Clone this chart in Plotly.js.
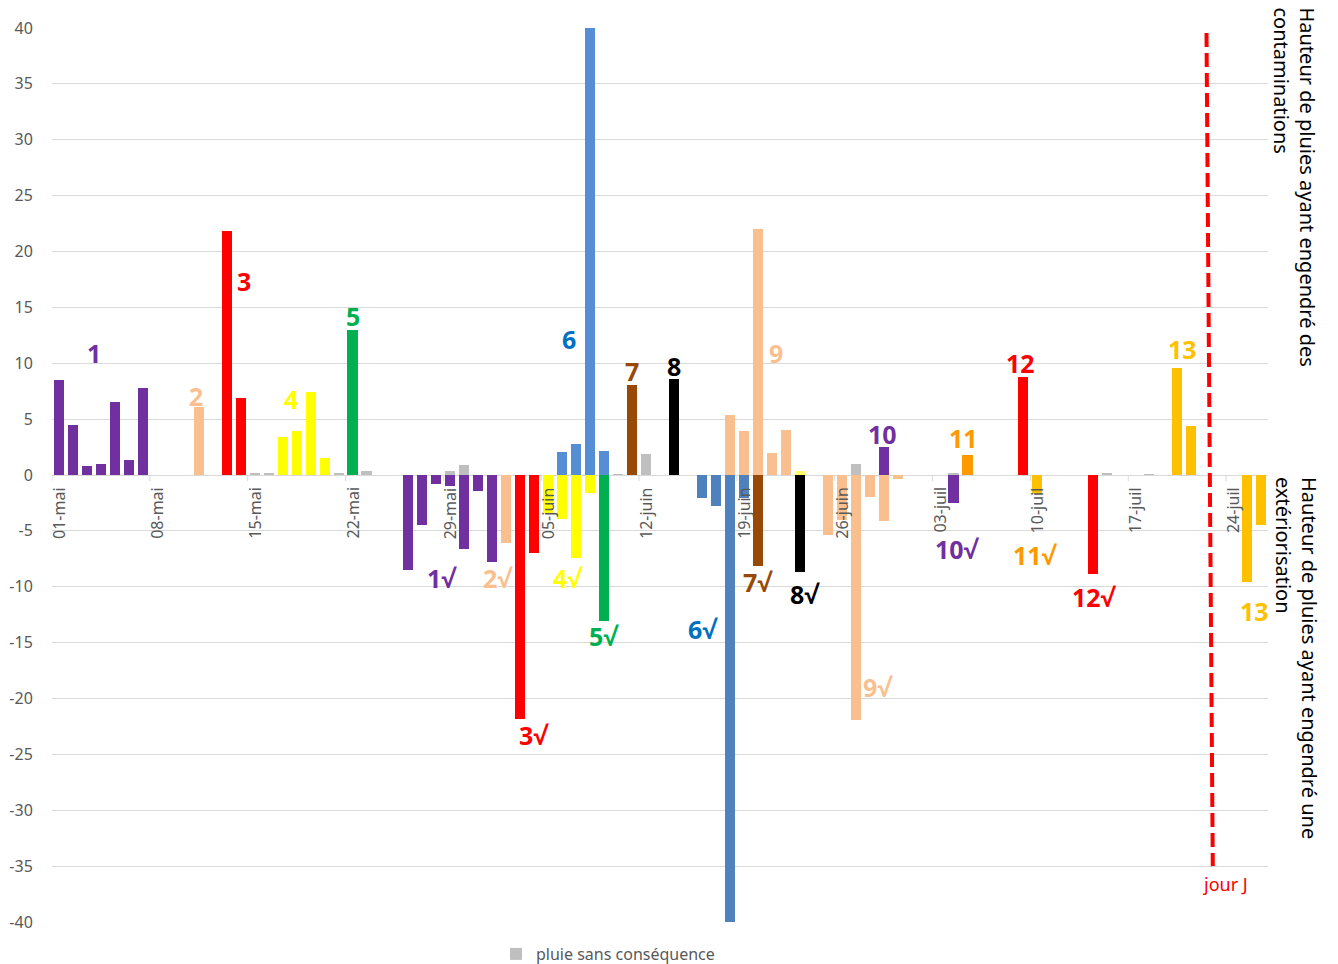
<!DOCTYPE html>
<html><head><meta charset="utf-8">
<script src="https://cdn.plot.ly/plotly-3.0.1.min.js"></script>
<style>html,body{margin:0;padding:0;background:#fff}#chart{width:1338px;height:964px}</style>
</head><body><div id="chart"></div>
<script>
// ---- data (mm de pluie par jour) ----
// contaminations (positif) et extériorisations (négatif), par épisode
const ep1_x  = ['05-01','05-02','05-03','05-04','05-05','05-06','05-07'];
const ep1_y  = [8.5, 4.5, 0.8, 1.0, 6.5, 1.3, 7.8];
const ep1v_x = ['05-26','05-27','05-28','05-29','05-30','05-31','06-01'];
const ep1v_y = [-8.5, -4.5, -0.8, -1.0, -6.6, -1.4, -7.75];
const ep2_x  = ['05-11'];            const ep2_y  = [6.1];
const ep2v_x = ['06-02'];            const ep2v_y = [-6.1];
const ep3_x  = ['05-13','05-14'];    const ep3_y  = [21.8, 6.9];
const ep3v_x = ['06-03','06-04'];    const ep3v_y = [-21.8, -6.95];
const ep4_x  = ['05-17','05-18','05-19','05-20']; const ep4_y  = [3.4, 3.9, 7.4, 1.55];
const ep4v_x = ['06-05','06-06','06-07','06-08']; const ep4v_y = [-3.4, -3.9, -7.4, -1.65];
const ep5_x  = ['05-22'];            const ep5_y  = [13.0];
const ep5v_x = ['06-09'];            const ep5v_y = [-13.05];
const ep6_x  = ['06-06','06-07','06-08','06-09']; const ep6_y  = [2.05, 2.8, 40, 2.15];
const ep6v_x = ['06-16','06-17','06-18','06-19']; const ep6v_y = [-2.1, -2.8, -40, -2.1];
const ep7_x  = ['06-11'];            const ep7_y  = [8.05];
const ep7v_x = ['06-20'];            const ep7v_y = [-8.1];
const ep8_x  = ['06-14'];            const ep8_y  = [8.6];
const ep8v_x = ['06-23'];            const ep8v_y = [-8.65];
const ep9_x  = ['06-18','06-19','06-20','06-21','06-22']; const ep9_y = [5.4, 3.95, 22.0, 2.0, 4.05];
const ep9b_x = ['06-23'];            const ep9b_y = [0.35];
const ep9v_x = ['06-25','06-26','06-27','06-28','06-29','06-30']; const ep9v_y = [-5.4, -4.0, -21.9, -2.0, -4.1, -0.4];
const ep10_x = ['06-29'];            const ep10_y = [2.5];
const ep10v_x= ['07-04'];            const ep10v_y= [-2.47];
const ep11_x = ['07-05'];            const ep11_y = [1.8];
const ep11v_x= ['07-10'];            const ep11v_y= [-1.7];
const ep12_x = ['07-09'];            const ep12_y = [8.75];
const ep12v_x= ['07-14'];            const ep12v_y= [-8.85];
const ep13_x = ['07-20','07-21'];    const ep13_y = [9.6, 4.4];
const ep13v_x= ['07-25','07-26'];    const ep13v_y= [-9.6, -4.45];
// pluie sans conséquence
const grey_x = ['05-15','05-16','05-21','05-23','05-29','05-30','06-10','06-12','06-27','07-04','07-15','07-18'];
const grey_y = [0.15, 0.15, 0.15, 0.35, 0.35, 0.9, 0.1, 1.9, 0.95, 0.2, 0.15, 0.05];
// tick labels (weekly)
const tickDates  = ['05-01','05-08','05-15','05-22','05-29','06-05','06-12','06-19','06-26','07-03','07-10','07-17','07-24'];
const tickLabels = ['01-mai','08-mai','15-mai','22-mai','29-mai','05-juin','12-juin','19-juin','26-juin','03-juil','10-juil','17-juil','24-juil'];
const yTicks = [40,35,30,25,20,15,10,5,0,-5,-10,-15,-20,-25,-30,-35,-40];

// ---- helpers ----
const YEAR = '2020-';
const BASE = Date.UTC(2020,4,1);
const DAY = 864e5;
const dayX = i => BASE + i*DAY;
const toMs = s => { const [m,d] = s.split('-').map(Number); return Date.UTC(2020, m-1, d); };
const BW = 0.72*DAY;

const C = {purple:'#7030A0', peach:'#FABF8F', red:'#FF0000', yellow:'#FFFF00', green:'#00B050',
  blue:'#558ED5', blue2:'#4F81BD', brown:'#984807', black:'#000000', orange:'#FF9900', amber:'#FFC000', grey:'#BFBFBF'};

function bar(xs, ys, color, name, legend){
  return {type:'bar', x: xs.map(s=>YEAR+s), y: ys, width: xs.map(()=>BW),
    marker:{color: color, line:{width:0}}, name: name||'', showlegend: !!legend, hoverinfo:'x+y'};
}
const traces = [
  bar(ep1_x,ep1_y,C.purple), bar(ep1v_x,ep1v_y,C.purple),
  bar(ep2_x,ep2_y,C.peach), bar(ep2v_x,ep2v_y,C.peach),
  bar(ep3_x,ep3_y,C.red), bar(ep3v_x,ep3v_y,C.red),
  bar(ep4_x,ep4_y,C.yellow), bar(ep4v_x,ep4v_y,C.yellow),
  bar(ep5_x,ep5_y,C.green), bar(ep5v_x,ep5v_y,C.green),
  bar(ep6_x,ep6_y,C.blue), bar(ep6v_x,ep6v_y,C.blue2),
  bar(ep7_x,ep7_y,C.brown), bar(ep7v_x,ep7v_y,C.brown),
  bar(ep8_x,ep8_y,C.black), bar(ep8v_x,ep8v_y,C.black),
  bar(ep9_x,ep9_y,C.peach), bar(ep9b_x,ep9b_y,'#FFFF66'), bar(ep9v_x,ep9v_y,C.peach),
  bar(ep10_x,ep10_y,C.purple), bar(ep10v_x,ep10v_y,C.purple),
  bar(ep11_x,ep11_y,C.orange), bar(ep11v_x,ep11v_y,C.amber),
  bar(ep12_x,ep12_y,C.red), bar(ep12v_x,ep12v_y,C.red),
  bar(ep13_x,ep13_y,C.amber), bar(ep13v_x,ep13v_y,C.amber),
  bar(grey_x,grey_y,C.grey,'pluie sans conséquence',true)
];

// episode labels: [text, day index, y, color]
const epLabels = [
  ['1',2.5,10.9,C.purple],['2',9.8,7.1,C.peach],['3',13.25,17.4,C.red],['4',16.6,6.8,C.yellow],
  ['5',21.0,14.2,C.green],['6',36.5,12.2,'#0070C0'],['7',41.0,9.3,C.brown],['8',44.0,9.75,C.black],
  ['9',51.3,10.9,C.peach],['10',58.95,3.67,C.purple],['11',64.7,3.3,C.orange],['12',68.8,10.0,C.red],
  ['13',80.4,11.3,C.amber],
  ['1√',27.4,-9.2,C.purple],['2√',31.4,-9.2,C.peach],['3√',33.95,-23.3,C.red],['4√',36.4,-9.2,C.yellow],
  ['5√',39.0,-14.4,C.green],['6√',46.1,-13.8,'#0070C0'],['7√',50.0,-9.6,C.brown],['8√',53.4,-10.65,C.black],
  ['9√',58.6,-19.0,C.peach],['10√',64.3,-6.6,C.purple],['11√',69.9,-7.2,C.orange],['12√',74.1,-10.9,C.red],
  ['13',85.5,-12.2,C.amber]
];

const FONT = 'Noto Sans, Open Sans, sans-serif';
const annotations = [];
epLabels.forEach(([t,i,y,c]) => annotations.push({x: dayX(i), y: y, xref:'x', yref:'y', text: t, showarrow:false,
  font:{family:FONT, size:25, color:c, weight:'bold'}, xanchor:'center', yanchor:'middle'}));
tickDates.forEach((d,k) => annotations.push({x: toMs(d), y: 0, xref:'x', yref:'y', text: tickLabels[k],
  showarrow:false, textangle:-90, xanchor:'center', yanchor:'top', yshift:-10,
  font:{family:FONT, size:16, color:'#595959'}}));
annotations.push({x: dayX(83.45), y: -36.6, xref:'x', yref:'y', text:'jour J', showarrow:false,
  font:{family:FONT, size:18, color:'#FF0000'}});
annotations.push({xref:'paper', yref:'paper', x:(1294-52)/1216, y:(922-5)/894, xanchor:'center', yanchor:'top',
  text:'Hauteur de pluies ayant engendré des<br>contaminations', textangle:90, align:'left', showarrow:false,
  font:{family:FONT, size:20, color:'#000'}});
annotations.push({xref:'paper', yref:'y', x:(1297-52)/1216, y:0, xanchor:'center', yanchor:'top',
  text:'Hauteur de pluies ayant engendré une<br>extériorisation', textangle:90, align:'left', showarrow:false,
  font:{family:FONT, size:20, color:'#000'}});

const shapes = [];
tickDates.forEach(d => { const x = toMs(d) - DAY/2;
  shapes.push({type:'line', xref:'x', yref:'y', ysizemode:'pixel', yanchor:0, x0:x, x1:x, y0:0, y1:-6,
    line:{color:'#D9D9D9', width:1}}); });
shapes.push({type:'line', xref:'x', yref:'y', x0: dayX(82.1), y0: 39.55, x1: dayX(82.55), y1: -35.0,
  line:{color:'#FF0000', width:4, dash:'14px,6px'}});

const layout = {
  width:1338, height:964, paper_bgcolor:'#fff', plot_bgcolor:'#fff',
  margin:{l:52, r:70, t:28, b:42, autoexpand:false},
  barmode:'overlay', bargap:0,
  font:{family:FONT, color:'#595959'},
  xaxis:{type:'date', range:[dayX(-0.5), dayX(86.5)], showticklabels:false, showgrid:false, zeroline:false,
    showline:false, ticks:''},
  yaxis:{range:[-40,40], tickvals:yTicks, ticktext:yTicks.map(String), showgrid:true, gridcolor:'#D9D9D9', gridwidth:1,
    zeroline:true, zerolinecolor:'#D9D9D9', zerolinewidth:1, showline:false,
    ticks:'outside', ticklen:15, tickcolor:'rgba(0,0,0,0)', tickfont:{family:FONT, size:16, color:'#595959'}},
  showlegend:true,
  legend:{orientation:'h', xref:'paper', x:(496-52)/1216, xanchor:'left', yref:'container', y:(964-954)/964, yanchor:'middle',
    font:{family:FONT, size:16, color:'#595959'}, itemwidth:30, bgcolor:'rgba(0,0,0,0)'},
  annotations, shapes
};
Plotly.newPlot('chart', traces, layout, {displayModeBar:false, staticPlot:true});
</script></body></html>
